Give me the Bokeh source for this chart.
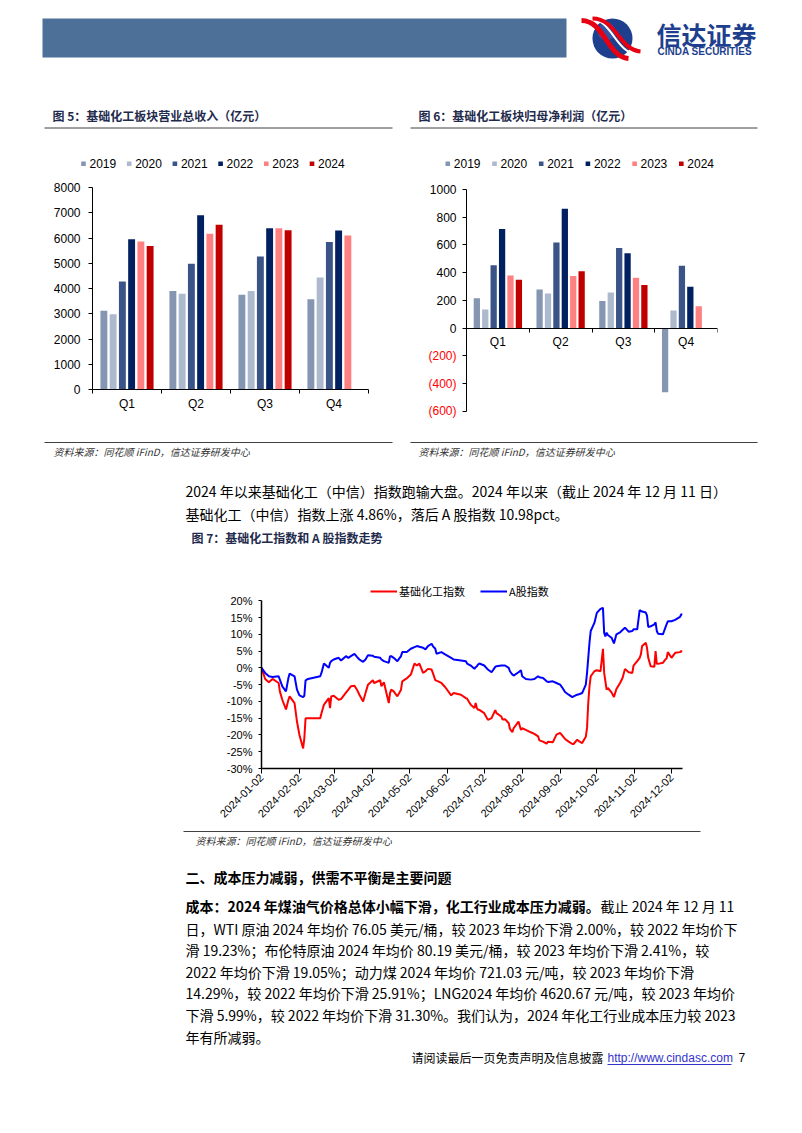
import math
import numpy as np
import pandas as pd
from bokeh.plotting import figure
from bokeh.layouts import column, row
from bokeh.models import (Range1d, FixedTicker, Legend, LegendItem, ColumnDataSource,
                          LabelSet, PrintfTickFormatter)
from bokeh.transform import dodge
from bokeh.core.properties import value
from bokeh.embed import file_html
from bokeh.resources import INLINE

NAN = float("nan")

# ---------------- data: figure 5 / 6 ----------------
quarters = ["Q1", "Q2", "Q3", "Q4"]
years = ["2019", "2020", "2021", "2022", "2023", "2024"]
year_colors = ["#8596B2", "#ADB9CC", "#3B5487", "#002060", "#FF8080", "#C00000"]

rev_2019 = [3120, 3900, 3755, 3570]
rev_2020 = [2980, 3795, 3900, 4440]
rev_2021 = [4280, 4980, 5270, 5840]
rev_2022 = [5955, 6905, 6390, 6300]
rev_2023 = [5865, 6165, 6390, 6100]
rev_2024 = [5680, 6520, 6310, NAN]
rev_ticks = [0, 1000, 2000, 3000, 4000, 5000, 6000, 7000, 8000]

np_2019 = [216, 279, 197, -462]
np_2020 = [135, 250, 257, 127]
np_2021 = [454, 618, 579, 450]
np_2022 = [716, 861, 541, 298]
np_2023 = [380, 377, 363, 159]
np_2024 = [349, 411, 312, NAN]
np_ticks = [-600, -400, -200, 0, 200, 400, 600, 800, 1000]

# ---------------- data: figure 7 ----------------
dates = ["2024-01-02", "2024-01-05", "2024-01-08", "2024-01-11", "2024-01-16", "2024-01-17",
         "2024-01-19", "2024-01-22", "2024-01-24", "2024-01-25", "2024-01-29", "2024-01-31",
         "2024-02-02", "2024-02-05", "2024-02-06", "2024-02-07", "2024-02-09", "2024-02-19",
         "2024-02-20", "2024-02-22", "2024-02-23", "2024-02-26", "2024-02-27", "2024-02-28",
         "2024-03-01", "2024-03-05", "2024-03-07", "2024-03-11", "2024-03-13", "2024-03-15",
         "2024-03-18", "2024-03-20", "2024-03-22", "2024-03-25", "2024-03-27", "2024-03-29",
         "2024-04-02", "2024-04-03", "2024-04-08", "2024-04-09", "2024-04-11", "2024-04-15",
         "2024-04-16", "2024-04-17", "2024-04-19", "2024-04-22", "2024-04-25", "2024-04-26",
         "2024-04-29", "2024-04-30", "2024-05-03", "2024-05-06", "2024-05-08", "2024-05-10",
         "2024-05-13", "2024-05-15", "2024-05-17", "2024-05-20", "2024-05-21", "2024-05-23",
         "2024-05-24", "2024-05-28", "2024-05-31", "2024-06-05", "2024-06-07", "2024-06-13",
         "2024-06-17", "2024-06-18", "2024-06-21", "2024-06-24", "2024-06-25", "2024-06-26",
         "2024-06-27", "2024-06-28", "2024-07-02", "2024-07-05", "2024-07-08", "2024-07-11",
         "2024-07-12", "2024-07-16", "2024-07-17", "2024-07-19", "2024-07-22", "2024-07-23",
         "2024-07-25", "2024-07-26", "2024-07-30", "2024-08-01", "2024-08-02", "2024-08-05",
         "2024-08-09", "2024-08-12", "2024-08-15", "2024-08-16", "2024-08-19", "2024-08-22",
         "2024-08-23", "2024-08-27", "2024-08-30", "2024-09-02", "2024-09-04", "2024-09-06",
         "2024-09-09", "2024-09-12", "2024-09-13", "2024-09-16", "2024-09-18", "2024-09-20",
         "2024-09-23", "2024-09-24", "2024-09-25", "2024-09-26", "2024-09-27", "2024-09-30",
         "2024-10-02", "2024-10-05", "2024-10-07", "2024-10-08", "2024-10-09", "2024-10-10",
         "2024-10-11", "2024-10-14", "2024-10-16", "2024-10-18", "2024-10-21", "2024-10-23",
         "2024-10-25", "2024-10-28", "2024-10-31", "2024-11-01", "2024-11-04", "2024-11-06",
         "2024-11-07", "2024-11-08", "2024-11-11", "2024-11-12", "2024-11-13", "2024-11-15",
         "2024-11-18", "2024-11-19", "2024-11-20", "2024-11-21", "2024-11-25", "2024-11-26",
         "2024-11-27", "2024-11-28", "2024-11-29", "2024-12-02", "2024-12-05", "2024-12-09",
         "2024-12-10", "2024-12-11"]
chem = [0.0, -3.3, -4.3, -3.3, -4.5, -7.0,
        -9.5, -12.4, -9.5, -8.5, -10.5, -16.0,
        -20.0, -24.0, -21.0, -15.0, -15.0, -15.0,
        -13.5, -11.0, -10.5, -9.0, -12.0, -8.5,
        -8.3, -9.5, -9.3, -7.4, -6.5, -5.5,
        -5.3, -6.5, -8.0, -10.0, -7.5, -5.0,
        -3.7, -4.5, -3.7, -5.5, -4.3, -10.5,
        -7.5, -6.5, -7.0, -8.5, -6.5, -4.0,
        -3.3, -3.0, -2.0, 1.3, 0.7, 1.3,
        -1.5, -1.0, -0.3, -0.5, -1.5, -3.7,
        -3.8, -4.5, -5.7, -8.2, -7.5, -8.0,
        -9.0, -9.2, -11.0, -12.0, -10.5, -12.0,
        -12.5, -12.5, -13.5, -15.5, -15.0, -12.6,
        -13.5, -14.5, -15.4, -15.3, -16.5, -18.2,
        -19.2, -18.0, -16.0, -18.5, -18.0, -18.5,
        -19.2, -19.7, -20.4, -21.6, -22.0, -22.6,
        -22.0, -22.2, -19.9, -19.4, -20.3, -21.2,
        -22.0, -22.7, -22.7, -21.4, -22.0, -22.4,
        -20.5, -17.9, -10.4, -5.5, -2.5, -1.0,
        -0.7, -1.0, 5.7, -1.5, -4.0, -6.5,
        -6.0, -7.3, -8.7, -6.3, -4.5, -3.0,
        -0.3, -1.3, -1.5, 0.7, 2.0, 3.0,
        4.0, 6.5, 7.5, 6.0, 3.0, 0.5,
        0.3, 5.0, 1.2, 1.2, 1.5, 2.0,
        2.5, 2.8, 4.7, 3.0, 4.5, 4.7,
        5.0, 4.86]
ashare = [0.0, -1.5, -2.5, -2.7, -2.5, -3.5,
          -5.5, -7.0, -3.0, -1.7, -2.5, -6.5,
          -8.2, -8.7, -8.3, -3.7, -3.3, -2.5,
          -1.5, 1.3, 1.0, 0.0, 1.5, 2.0,
          2.5, 3.0, 2.2, 3.5, 3.0, 3.5,
          4.2, 3.3, 2.5, 1.8, 2.5, 3.8,
          3.6, 3.3, 3.0, 2.5, 2.0, 1.5,
          3.5, 3.5, 3.0, 2.0, 3.5, 4.7,
          4.7, 4.8, 5.7, 6.2, 6.5, 6.3,
          6.0, 5.5, 6.5, 7.2, 6.5, 5.7,
          4.2, 4.7, 4.0, 3.0, 2.5, 2.2,
          2.0, 1.3, 0.7, -0.3, 0.2, 0.5,
          1.0, 1.3, 0.7, -0.5, -1.3, 0.3,
          0.5, 0.7, 0.7, 0.7, 0.0, -1.0,
          -2.0, -2.3, -1.3, -0.7, -2.5, -3.3,
          -3.5, -3.3, -2.5, -2.8, -3.0, -4.0,
          -4.2, -4.0, -4.5, -5.0, -6.0, -7.2,
          -8.0, -8.7, -8.5, -8.0, -7.8, -7.5,
          -5.0, -1.5, 3.0, 7.5, 11.0, 13.4,
          16.4, 17.6, 17.9, 10.4, 9.4, 10.5,
          9.8, 9.0, 7.3, 10.0, 10.6, 11.3,
          12.0, 10.8, 11.0, 11.5, 11.5, 17.2,
          17.0, 16.8, 16.5, 15.6, 12.2, 12.4,
          13.0, 13.6, 11.0, 10.2, 10.0, 11.0,
          12.0, 13.0, 13.9, 13.9, 14.3, 15.2,
          16.0, 15.84]
series7_names = ["基础化工指数", "A股指数"]
series7_colors = ["#FF0000", "#0000FF"]
tick_dates = ["2024-01-02", "2024-02-02", "2024-03-02", "2024-04-02", "2024-05-02", "2024-06-02",
              "2024-07-02", "2024-08-02", "2024-09-02", "2024-10-02", "2024-11-02", "2024-12-02"]
pct_ticks = [-30, -25, -20, -15, -10, -5, 0, 5, 10, 15, 20]

# ---------------- texts ----------------
title5 = "图 5：基础化工板块营业总收入（亿元）"
title6 = "图 6：基础化工板块归母净利润（亿元）"
title7 = "图 7：基础化工指数和 A 股指数走势"
source_text = "资料来源：同花顺 iFinD，信达证券研发中心"
para1 = ["2024 年以来基础化工（中信）指数跑输大盘。2024 年以来（截止 2024 年 12 月 11 日）",
         "基础化工（中信）指数上涨 4.86%，落后 A 股指数 10.98pct。"]
heading2 = "二、成本压力减弱，供需不平衡是主要问题"
para2_bold = "成本：2024 年煤油气价格总体小幅下滑，化工行业成本压力减弱。"
para2_first = "截止 2024 年 12 月 11"
para2 = ["日，WTI 原油 2024 年均价 76.05 美元/桶，较 2023 年均价下滑 2.00%，较 2022 年均价下",
         "滑 19.23%；布伦特原油 2024 年均价 80.19 美元/桶，较 2023 年均价下滑 2.41%，较",
         "2022 年均价下滑 19.05%；动力煤 2024 年均价 721.03 元/吨，较 2023 年均价下滑",
         "14.29%，较 2022 年均价下滑 25.91%；LNG2024 年均价 4620.67 元/吨，较 2023 年均价",
         "下滑 5.99%，较 2022 年均价下滑 31.30%。我们认为，2024 年化工行业成本压力较 2023",
         "年有所减弱。"]
footer_text = "请阅读最后一页免责声明及信息披露"
footer_link = "http://www.cindasc.com"
page_no = "7"

CJK = "Noto Sans CJK SC"
LAT = "Liberation Sans"
TITLE_C = "#1F2B4D"
W = 802


def no_align(p):
    try:
        p.frame_align = False
    except Exception:
        pass
    return p


def deco(y0, h):
    p = figure(width=W, height=h, x_range=Range1d(0, W), y_range=Range1d(y0 + h, y0),
               x_axis_type=None, y_axis_type=None, output_backend="svg",
               toolbar_location=None, min_border=0, title=None)
    p.outline_line_color = None
    p.background_fill_color = "white"
    p.border_fill_color = "white"
    return no_align(p)


def put(p, x, y, s, size=14, font=CJK, color="#000000", style="normal", align="left"):
    p.text(x=[x], y=[y], text=[s], text_font=value(font), text_font_size=value(f"{size}px"),
           text_color=color, text_font_style=style, text_align=align, text_baseline="middle")


def hline(p, x0, x1, y, color="#404040", w=1.0):
    p.segment(x0=[x0], y0=[y], x1=[x1], y1=[y], line_color=color, line_width=w)


def year_legend(p, x_start, y, pitch):
    # legend keys for the bar charts: one colour square + year label per series
    xs = [x_start + k * pitch for k in range(len(years))]
    p.rect(x=[x + 2.3 for x in xs], y=[y] * len(xs), width=4.6, height=4.6,
           fill_color=year_colors, line_color=None)
    p.text(x=[x + 8.3 for x in xs], y=[y] * len(xs), text=years, text_font=value(LAT),
           text_font_size=value("12px"), text_color="#000000", text_baseline="middle")


# ---------------- block A: header, figure titles, bar legends ----------------
pA = deco(0, 176)
pA.quad(left=[42], right=[566], top=[18], bottom=[57], fill_color="#4C7098", line_color=None)
pA.circle(x=[612], y=[38], radius=20, fill_color="#1E3F8E", line_color=None)
pA.circle(x=[606], y=[31], radius=9, fill_color="#3F63B0", line_color=None, fill_alpha=0.6)
pA.bezier(x0=[581], y0=[20], x1=[628], y1=[58], cx0=[604], cy0=[20], cx1=[606], cy1=[56],
          line_color="#E60012", line_width=5)
pA.bezier(x0=[588], y0=[18], x1=[637], y1=[54], cx0=[612], cy0=[18], cx1=[614], cy1=[52],
          line_color="white", line_width=2)
pA.bezier(x0=[592], y0=[18], x1=[640], y1=[51], cx0=[616], cy0=[18], cx1=[618], cy1=[49],
          line_color="#E60012", line_width=4)
put(pA, 656, 33, "信达证券", size=25, color="#1E3F8E", style="bold")
put(pA, 657, 51, "CINDA SECURITIES", size=10, font=LAT, color="#1E3F8E", style="bold")
put(pA, 52, 115, title5, size=12, color=TITLE_C, style="bold")
put(pA, 418, 115, title6, size=12, color=TITLE_C, style="bold")
hline(pA, 44, 392, 127.5)
hline(pA, 410, 757, 127.5)
year_legend(pA, 80.7, 163.3, 45.7)
year_legend(pA, 445.0, 163.3, 46.7)


# ---------------- block B: figures 5 and 6 ----------------
def style_axis(ax, size="12px"):
    ax.axis_line_color = "#000000"
    ax.major_tick_line_color = "#000000"
    ax.minor_tick_line_color = None
    ax.major_tick_in = 0
    ax.major_tick_out = 4
    ax.major_label_text_font = LAT
    ax.major_label_text_font_size = size
    ax.major_label_text_color = "#000000"


def bar_fig(width, series, x_lo, y_lo, y_hi, borders, fixed_zero):
    left, right, top, bottom = borders
    p = figure(width=width, height=264, x_range=Range1d(x_lo, len(quarters)),
               y_range=Range1d(y_lo, y_hi), output_backend="svg", toolbar_location=None,
               title=None, min_border_left=left, min_border_right=right, min_border_top=top,
               min_border_bottom=bottom)
    no_align(p)
    p.outline_line_color = None
    p.grid.visible = False
    data = {"xq": [i + 0.5 for i in range(len(quarters))]}
    for yname, vals in zip(years, series):
        data[yname] = np.array(vals, dtype=float)
    src = ColumnDataSource(data)
    n = len(years)
    for k, (yname, col) in enumerate(zip(years, year_colors)):
        p.vbar(x=dodge("xq", (k - (n - 1) / 2) * 0.134, range=p.x_range), top=yname, bottom=0,
               width=0.1, source=src, fill_color=col, line_color=None)
    xa = p.xaxis[0]
    style_axis(xa)
    xa.ticker = FixedTicker(ticks=[i + 0.5 for i in range(len(quarters))],
                            minor_ticks=list(range(len(quarters) + 1)))
    xa.major_label_overrides = {i + 0.5: q for i, q in enumerate(quarters)}
    xa.major_tick_line_color = None
    xa.minor_tick_out = 4
    xa.minor_tick_in = 0
    xa.minor_tick_line_color = "#000000"
    xa.bounds = (0, len(quarters))
    xa.major_label_standoff = 3
    if fixed_zero:
        xa.fixed_location = 0
    return p


# block B spans page y 176..440
# fig5: frame x 92..368, 8000 at y 187, 0 at y 389
p5 = bar_fig(375, [rev_2019, rev_2020, rev_2021, rev_2022, rev_2023, rev_2024],
             0, rev_ticks[0], rev_ticks[-1], (92, 7, 11, 51), False)
ya5 = p5.yaxis[0]
style_axis(ya5)
ya5.ticker = FixedTicker(ticks=rev_ticks)
ya5.bounds = (rev_ticks[0], rev_ticks[-1])
ya5.major_label_standoff = 8

# fig6: value axis at x 466, groups to 717; 1000 at y 189, 0 at y 327.7
# frame spans y 179..419 and starts left of the value axis so labels stay inside it
s6 = (327.7 - 189) / 1000
p6 = bar_fig(427, [np_2019, np_2020, np_2021, np_2022, np_2023, np_2024],
             -(466 - 420) / 62.75, -(419 - 327.7) / s6, (327.7 - 179) / s6,
             (45, 85, 3, 21), True)
neg_ticks = [t for t in np_ticks if t < 0]
ya6 = p6.yaxis[0]
style_axis(ya6)
ya6.ticker = FixedTicker(ticks=np_ticks)
ya6.bounds = (np_ticks[0], np_ticks[-1])
ya6.major_label_standoff = 6
ya6.major_label_overrides = {t: "" for t in neg_ticks}
ya6.fixed_location = 0
neg_src = ColumnDataSource(dict(x=[0.0] * len(neg_ticks), y=neg_ticks,
                                t=[f"({abs(t)})" for t in neg_ticks]))
p6.add_layout(LabelSet(x="x", y="y", text="t", source=neg_src, x_offset=-10,
                       text_align="right", text_baseline="middle", text_font=value(LAT),
                       text_font_size=value("12px"), text_color="#FF0000"))

# ---------------- block C: sources, paragraph 1, fig7 title ----------------
pC = deco(440, 115)
hline(pC, 44, 392, 442)
hline(pC, 410, 757, 442)
put(pC, 53, 451, source_text, size=10, color="#333333", style="italic")
put(pC, 418, 451, source_text, size=10, color="#333333", style="italic")
put(pC, 185, 490, para1[0], size=14)
put(pC, 185, 513, para1[1], size=14)
put(pC, 191, 537, title7, size=12, color=TITLE_C, style="bold")

# ---------------- block 7: line chart ----------------
x_dates = pd.to_datetime(dates)
s7 = (767.7 - 600) / 50.0
p7 = figure(width=W, height=271, x_axis_type="datetime",
            x_range=Range1d(x_dates[0], x_dates[-1]),
            y_range=Range1d(-30, -30 + (768 - 580) / s7),
            output_backend="svg", toolbar_location=None, title=None,
            min_border_left=261, min_border_right=120, min_border_top=25, min_border_bottom=58)
no_align(p7)
p7.outline_line_color = None
p7.grid.visible = False
src7 = ColumnDataSource(dict(d=x_dates, chem=chem, a=ashare))
r_chem = p7.line("d", "chem", source=src7, line_color=series7_colors[0], line_width=2)
r_a = p7.line("d", "a", source=src7, line_color=series7_colors[1], line_width=2)
leg7 = Legend(items=[LegendItem(label=series7_names[0], renderers=[r_chem]),
                     LegendItem(label=series7_names[1], renderers=[r_a])],
              orientation="horizontal", location=(109, 169), glyph_width=27, glyph_height=12,
              label_standoff=2, spacing=15, padding=0, margin=0, border_line_color=None,
              background_fill_alpha=0, label_text_font=CJK, label_text_font_size="11px",
              label_text_color="#000000", label_height=10)
p7.add_layout(leg7)
tick_ms = [int(pd.Timestamp(t).value // 10**6) for t in tick_dates]
xa7 = p7.xaxis[0]
style_axis(xa7, "11px")
xa7.ticker = FixedTicker(ticks=tick_ms)
xa7.major_label_overrides = {m: t for m, t in zip(tick_ms, tick_dates)}
xa7.major_label_orientation = math.pi / 4
xa7.major_tick_out = 5
xa7.axis_line_width = 1.5
xa7.major_label_standoff = 2
ya7 = p7.yaxis[0]
style_axis(ya7, "11px")
ya7.ticker = FixedTicker(ticks=pct_ticks)
ya7.bounds = (pct_ticks[0], pct_ticks[-1])
ya7.formatter = PrintfTickFormatter(format="%d%%")
ya7.major_tick_out = 3
ya7.axis_line_width = 1.5
ya7.major_label_standoff = 6

# ---------------- block D: source, section 2, footer ----------------
pD = deco(826, 307)
hline(pD, 183, 700, 831)
put(pD, 195, 840, source_text, size=10, color="#333333", style="italic")
put(pD, 185, 876, heading2, size=14, style="bold")
put(pD, 185, 905, para2_bold, size=14, style="bold")
put(pD, 600, 905, para2_first, size=14)
for i, line in enumerate(para2):
    put(pD, 185, 928 + i * 21.6, line, size=14)
put(pD, 411, 1057, footer_text, size=12)
put(pD, 607, 1057, footer_link, size=12, font=LAT, color="#3333CC")
hline(pD, 607, 731, 1064, color="#3333CC", w=1)
put(pD, 738, 1057, page_no, size=12, font=LAT)

layout = column(pA, row(p5, p6), pC, p7, pD)
open("out.html", "w").write(file_html(layout, INLINE, "page"))
